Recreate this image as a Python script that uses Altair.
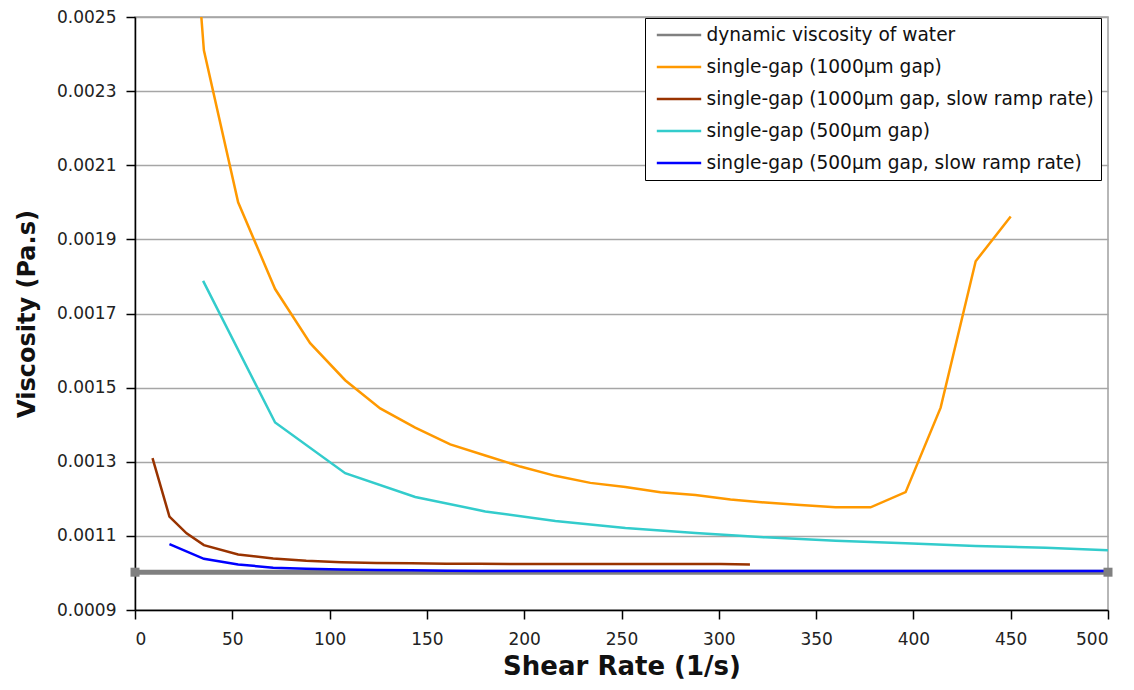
import altair as alt
import pandas as pd

# ---- data ----
names = [
    "dynamic viscosity of water",
    "single-gap (1000µm gap)",
    "single-gap (1000µm gap, slow ramp rate)",
    "single-gap (500µm gap)",
    "single-gap (500µm gap, slow ramp rate)",
]
colors = ["#808080", "#FF9900", "#993300", "#33CCCC", "#0000FF"]

water_x = [0, 500]
water_y = [0.001002, 0.001002]

g1000_x = [33.8, 35.4, 53, 72, 90, 108, 126, 144, 162, 180, 198, 216, 234, 252,
           270, 288, 306, 324, 342, 360, 378, 396, 414, 432, 450]
g1000_y = [0.00252, 0.00241, 0.00200, 0.001766, 0.00162, 0.00152, 0.001444, 0.001392,
           0.001347, 0.001317, 0.001287, 0.001262, 0.001243, 0.001232, 0.001218,
           0.00121, 0.001198, 0.00119, 0.001183, 0.001177, 0.001177, 0.001218,
           0.001446, 0.001841, 0.001962]

g1000s_x = [9, 17.7, 26.5, 35.4, 53, 71, 88, 106, 124, 142, 160, 177, 195, 212,
            230, 248, 265, 283, 301, 316]
g1000s_y = [0.00131, 0.001152, 0.001107, 0.001075, 0.00105, 0.001039, 0.001033,
            0.001029, 0.001027, 0.001026, 0.001025, 0.001025, 0.001024, 0.001024,
            0.001024, 0.001024, 0.001024, 0.001024, 0.001024, 0.001023]

g500_x = [35, 72, 108, 144, 180, 216, 252, 288, 324, 360, 396, 432, 468, 504]
g500_y = [0.001788, 0.001406, 0.001269, 0.001205, 0.001166, 0.00114, 0.001121,
          0.001108, 0.001096, 0.001087, 0.00108, 0.001073, 0.001068, 0.00106]

g500s_x = [17.7, 35.4, 53, 71, 88, 106, 124, 142, 160, 177, 212, 248, 283, 318,
           354, 389, 424, 460, 500]
g500s_y = [0.001078, 0.001038, 0.001023, 0.001014, 0.001011, 0.001009, 0.001008,
           0.001007, 0.001006, 0.001005, 0.001005, 0.001005, 0.001005, 0.001005,
           0.001005, 0.001005, 0.001005, 0.001005, 0.001005]

y_ticks = [0.0009, 0.0011, 0.0013, 0.0015, 0.0017, 0.0019, 0.0021, 0.0023, 0.0025]
x_ticks = [0, 50, 100, 150, 200, 250, 300, 350, 400, 450, 500]

# ---- tables ----
water = pd.DataFrame({"x": water_x, "y": water_y, "s": names[0], "o": range(len(water_x))})
rows = []
for nm, xs, ys in [(names[1], g1000_x, g1000_y), (names[2], g1000s_x, g1000s_y),
                   (names[3], g500_x, g500_y), (names[4], g500s_x, g500s_y)]:
    for i, (a, b) in enumerate(zip(xs, ys)):
        rows.append({"x": a, "y": b, "s": nm, "o": i})
others = pd.DataFrame(rows)

FONT = "DejaVu Sans"

xenc = alt.X("x:Q", scale=alt.Scale(domain=[0, 500], nice=False),
             axis=alt.Axis(values=x_ticks, format="d", grid=False, title="Shear Rate (1/s)",
                           labelPadding=12, titlePadding=6, titleFontSize=26))
yenc = alt.Y("y:Q", scale=alt.Scale(domain=[0.0009, 0.0025], nice=False, zero=False),
             axis=alt.Axis(values=y_ticks, format=".4f", grid=True, title="Viscosity (Pa.s)",
                           labelPadding=10, titlePadding=17, titleFontSize=24))
cenc = alt.Color("s:N", scale=alt.Scale(domain=names, range=colors),
                 legend=alt.Legend(title=None, orient="none", legendX=510, legendY=1,
                                   symbolType="M-2.4,0H2.4", symbolSize=342,
                                   symbolStrokeWidth=2.5, symbolOffset=17,
                                   symbolFillColor="transparent",
                                   labelFontSize=18.6, labelFont=FONT, labelColor="#111111",
                                   labelLimit=0, strokeColor="black", fillColor="white",
                                   padding=6.5, rowPadding=11, labelOffset=17))

water_line = alt.Chart(water).mark_line(strokeWidth=5).encode(
    x=xenc, y=yenc, color=cenc, order="o:Q")
water_pts = alt.Chart(water).mark_point(shape="square", filled=True, size=81, opacity=1).encode(
    x=xenc, y=yenc, color=cenc)
lines = alt.Chart(others).mark_line(strokeWidth=2.5, clip=True).encode(
    x=xenc, y=yenc, color=cenc, detail="s:N", order="o:Q")

chart = alt.layer(water_line, lines, water_pts).properties(
    width=973, height=593,
    padding={"left": 127, "top": 9, "right": 18, "bottom": 72},
    autosize=alt.AutoSizeParams(type="none"),
).configure_view(stroke="#a0a0a0", strokeWidth=1.5).configure_axis(
    labelFont=FONT, labelFontSize=17, labelColor="#222222",
    titleFont=FONT, titleFontWeight="bold", titleColor="#111111",
    domainColor="black", domainWidth=1.5, tickColor="black", tickSize=9, tickWidth=1.5,
    gridColor="#a6a6a6", gridWidth=1.5,
)

chart.save("out.html", embed_options={"renderer": "svg", "actions": False})
